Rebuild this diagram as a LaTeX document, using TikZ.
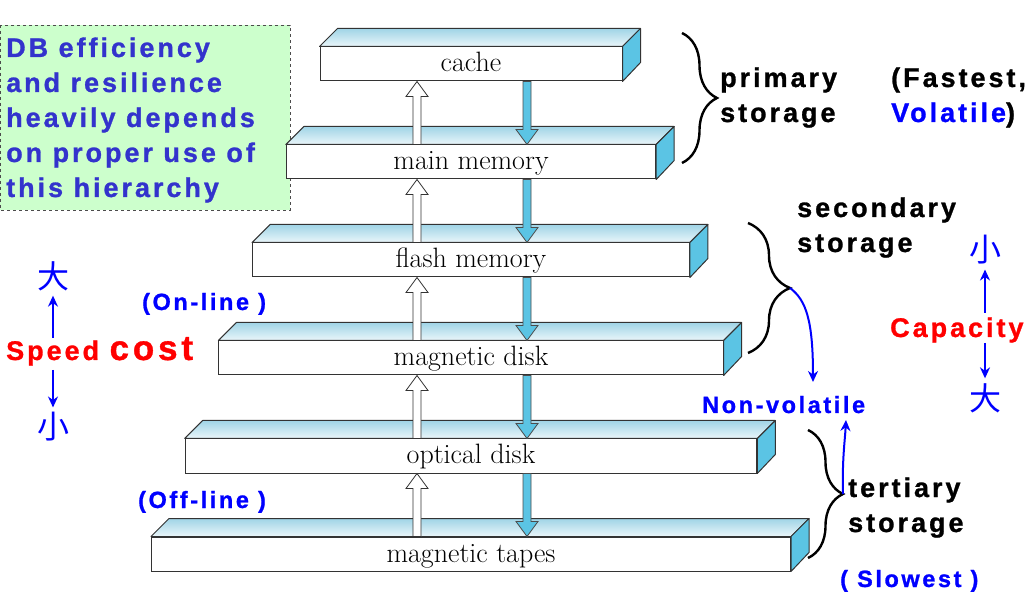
\documentclass[tikz,border=0pt]{standalone}
\usepackage{fontspec}
\usetikzlibrary{calc,arrows.meta,decorations.pathreplacing}
\newfontfamily\heavy{Liberation Sans Bold}[LetterSpace=11, FakeBold=1]
\newfontfamily\cjk{Noto Sans CJK SC}
\definecolor{facetop}{RGB}{160,212,230}
\definecolor{facefront}{RGB}{234,246,250}
\definecolor{faceside}{RGB}{91,196,228}
\definecolor{notegreen}{RGB}{204,255,204}
\definecolor{noteblue}{RGB}{51,51,204}

% outlined block arrow between two vertically aligned points
\newcommand{\flowarrow}[3]{%
	\draw[#1] let \p1=(#2), \p2=(#3), \n1={(\y2>\y1)*2-1} in
		(\x1-4pt,\y1) -- (\x1-4pt,\y2-\n1*15pt) -- (\x1-11pt,\y2-\n1*15pt) -- (\x1,\y2)
		-- (\x1+11pt,\y2-\n1*15pt) -- (\x1+4pt,\y2-\n1*15pt) -- (\x1+4pt,\y1) -- cycle;}

\begin{document}
\begin{tikzpicture}[x=1pt, y=-1pt,
	layer/.style={draw=black!80, line width=1pt, fill=white, minimum height=34pt, inner sep=0pt,
		text height=20pt, text depth=4pt, font=\fontsize{28}{30}\selectfont},
	face/.style={draw=black!80, line width=1pt, line join=round},
	uparrow/.style={fill=white, draw=black!80, line width=0.8pt},
	downarrow/.style={fill=faceside, draw=black!70, line width=0.8pt},
	tag/.style={anchor=base west, inner sep=0pt, align=left, font=\heavy\fontsize{27}{35}\selectfont},
	bluetag/.style={tag, text=blue, font=\heavy\fontsize{23.5}{26}\selectfont},
	cjkchar/.style={text=blue, inner sep=0pt, outer sep=5pt, font=\cjk\fontsize{32}{32}\selectfont},
	ind/.style={blue, line width=2pt, -{Stealth[length=11pt,width=10pt]}},
	curly/.style={decorate, decoration={brace, amplitude=#1}, line width=2.4pt},
	notebox/.style={draw=black!70, dashed, fill=notegreen, line width=0.8pt}
	]
	\useasboundingbox (0,0) rectangle (1029,612);

	% note box
	\draw[notebox] (0,25) rectangle (290,210);
	\node[tag, text=noteblue] (note) at (6,197) {DB efficiency\\and resilience\\heavily depends\\on proper use of\\this hierarchy};

	% storage layers
	\foreach \name/\txt [count=\i from 0] in {cache/cache, mainmem/main memory, flash/flash memory, disk/magnetic disk, optical/optical disk, tapes/magnetic tapes}{
		\node[layer, minimum width={302+67.4*\i}] (\name) at (471,{64+98*\i}) {\txt};
		\path[face, top color=facetop, bottom color=facefront] (\name.north west) -- ++(18,-18) -- ($(\name.north east)+(18,-18)$) -- (\name.north east) -- cycle;
		\filldraw[face, fill=faceside] (\name.north east) -- ++(18,-18) -- ++(0,34) -- (\name.south east) -- cycle;
	}

	\coordinate (upx) at (417,0);
	\coordinate (downx) at (527,0);
	\foreach \hi/\lo in {cache/mainmem, mainmem/flash, flash/disk, disk/optical, optical/tapes}{
		\flowarrow{uparrow}{\lo.north -| upx}{\hi.south -| upx}
		\flowarrow{downarrow}{\hi.south -| downx}{\lo.north -| downx}
	}

	% braces and labels
	\draw[curly=35] (682,33) -- (682,163);
	\draw[curly=42] (748,223) -- (748,353);
	\draw[curly=35] (808,430) -- (808,558);
	\coordinate (sectip) at (790,288);
	\coordinate (tertip) at (843,494);
	\coordinate (nvbelow) at (813,382);
	\coordinate (nvabove) at (846,420);

	\node[tag] (primary) at (720,122) {primary\\storage};
	\node[tag] (fastest) at (891,122) {(Fastest,\\\textcolor{blue}{Volatile})};
	\node[tag] (secondary) at (797,252) {secondary\\storage};
	\node[tag] (tertiary) at (848,532) {tertiary\\storage};
	\node[bluetag] (slowest) at (840,587) {( Slowest )};
	\node[bluetag] (online) at (142,310) {(On-line )};
	\node[bluetag] (offline) at (138,508) {(Off-line )};
	\node[bluetag] (nonvol) at (702,413) {Non-volatile};

	\draw[ind] (sectip) .. controls (806,300) and (813,320) .. (nvbelow);
	\draw[ind] (tertip) .. controls (842,460) and (845,440) .. (nvabove);

	% speed and capacity scales
	\node[tag, text=red] (speed) at (6,360) {Speed {\fontsize{35}{35}\selectfont cost}};
	\node[tag, text=red] (capacity) at (890,337) {Capacity};
	\node[cjkchar] (speedhi) at (53,276) {大};
	\node[cjkchar] (speedlo) at (53,427) {小};
	\node[cjkchar] (caplo) at (985,250) {小};
	\node[cjkchar] (caphi) at (985,398) {大};
	\coordinate (speedup) at (53,338);
	\coordinate (speeddown) at (53,370);
	\coordinate (capup) at (985,313);
	\coordinate (capdown) at (985,343);
	\draw[ind] (speedup) -- (speedhi.south);
	\draw[ind] (speeddown) -- (speedlo.north);
	\draw[ind] (capup) -- (caplo.south);
	\draw[ind] (capdown) -- (caphi.north);
\end{tikzpicture}
\end{document}
